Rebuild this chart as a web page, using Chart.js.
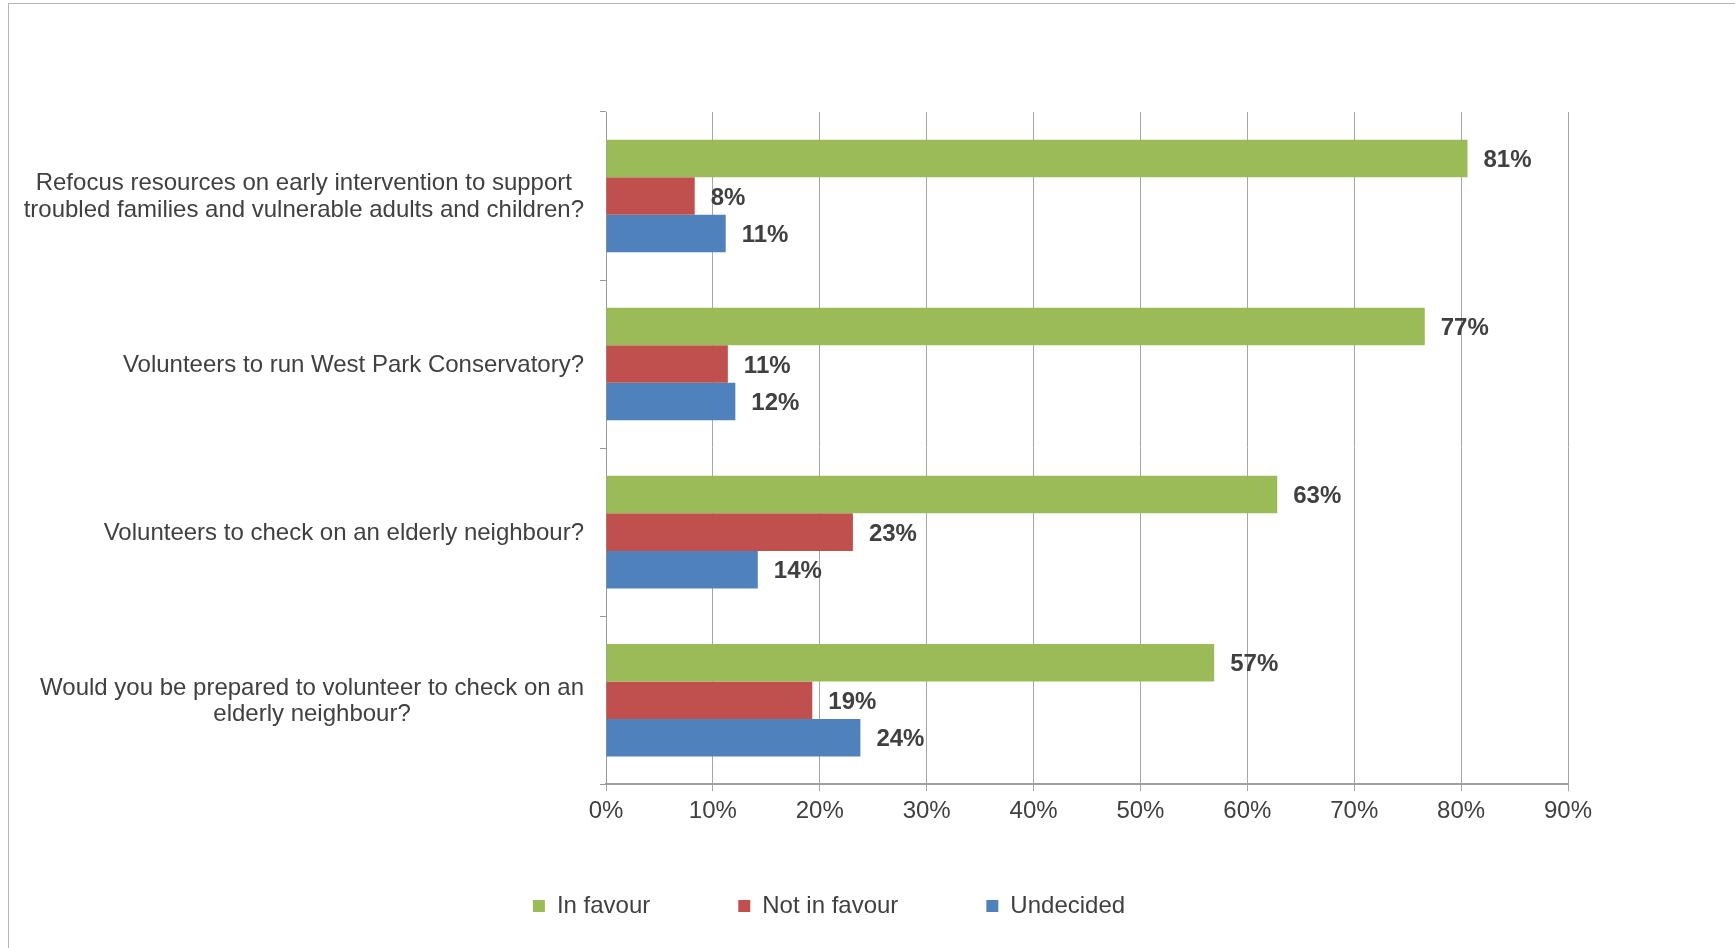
<!DOCTYPE html>
<html lang="en">
<head>
    <meta charset="UTF-8">
    <title>Volunteering and early intervention - survey results</title>
    <script src="https://cdn.jsdelivr.net/npm/chart.js"></script>
    <style>
        body { margin: 0; background: #fff; font-family: "Liberation Sans", Arial, sans-serif; overflow: hidden; }
        .moldura { position: absolute; left: 8px; top: 3px; width: 1800px; height: 1000px; border: 1px solid #b4b4b4; }
        .grafico { position: absolute; left: 0; top: 0; width: 1640px; height: 952px; }
    </style>
</head>
<body>
    <div class="moldura">
        <div class="grafico"><canvas id="grafico"></canvas></div>
    </div>

    <script>
        // perguntas (cada linha da label em um item)
        const perguntas = [
            ["Refocus resources on early intervention to support", "troubled families and vulnerable adults and children?"],
            ["Volunteers to run West Park Conservatory?"],
            ["Volunteers to check on an elderly neighbour?"],
            ["Would you be prepared to volunteer to check on an", "elderly neighbour?"]
        ];
        const emFavor = [80.6, 76.6, 62.8, 56.9];
        const contra = [8.3, 11.4, 23.1, 19.3];
        const indecisos = [11.2, 12.1, 14.2, 23.8];
        const ticksX = [0, 10, 20, 30, 40, 50, 60, 70, 80, 90];

        const corTexto = "#404040";
        const fonte = "'Liberation Sans', Arial, sans-serif";

        // desenha as perguntas centralizadas, alinhadas à direita do eixo
        const pluginPerguntas = {
            id: "perguntas",
            afterDraw(chart) {
                const ctx = chart.ctx;
                const y = chart.scales.y;
                ctx.save();
                ctx.font = "24px " + fonte;
                ctx.fillStyle = corTexto;
                ctx.textAlign = "center";
                ctx.textBaseline = "middle";
                const direita = y.right - 22;
                const alturaLinha = 26.5;
                perguntas.forEach((linhas, i) => {
                    const largura = Math.max(...linhas.map(l => ctx.measureText(l).width));
                    const cx = direita - largura / 2;
                    const cy = y.getPixelForValue(i) + 1;
                    linhas.forEach((l, j) => {
                        ctx.fillText(l, cx, cy + (j - (linhas.length - 1) / 2) * alturaLinha);
                    });
                });
                ctx.restore();
            }
        };

        // rótulos de valor ao lado das barras
        const pluginValores = {
            id: "valores",
            afterDatasetsDraw(chart) {
                const ctx = chart.ctx;
                ctx.save();
                ctx.font = "bold 24px " + fonte;
                ctx.fillStyle = corTexto;
                ctx.textAlign = "left";
                ctx.textBaseline = "middle";
                chart.data.datasets.forEach((ds, d) => {
                    chart.getDatasetMeta(d).data.forEach((barra, i) => {
                        ctx.fillText(Math.round(ds.data[i]) + "%", barra.x + 16, barra.y + 2);
                    });
                });
                ctx.restore();
            }
        };

        // legenda mais perto do eixo do que o padding horizontal deixaria
        const pluginLegenda = {
            id: "subirLegenda",
            afterLayout(chart) {
                chart.legend.top -= 26;
                chart.legend.bottom -= 26;
            }
        };

        const ctx = document.getElementById("grafico").getContext("2d");
        new Chart(ctx, {
            type: "bar",
            data: {
                labels: perguntas.map(l => l.join(" ")),
                datasets: [
                    { label: "In favour", data: emFavor, backgroundColor: "#9BBB59" },
                    { label: "Not in favour", data: contra, backgroundColor: "#C0504D" },
                    { label: "Undecided", data: indecisos, backgroundColor: "#4F81BD" }
                ]
            },
            options: {
                indexAxis: "y",
                responsive: true,
                maintainAspectRatio: false,
                animation: false,
                datasets: { bar: { categoryPercentage: 0.67, barPercentage: 1.0 } },
                layout: { padding: { top: 108, right: 0, bottom: 2, left: 0 } },
                scales: {
                    x: {
                        min: 0,
                        max: 90,
                        afterBuildTicks: scale => { scale.ticks = ticksX.map(v => ({ value: v })); },
                        ticks: {
                            callback: v => v + "%",
                            color: corTexto,
                            font: { family: fonte, size: 24 },
                            padding: 6,
                            maxRotation: 0
                        },
                        grid: { color: "#a6a6a6", tickLength: 7, tickColor: "#a6a6a6" },
                        border: { color: "#a0a0a0", width: 2 }
                    },
                    y: {
                        ticks: { display: false },
                        afterFit: scale => { scale.width = 597; },
                        grid: { drawOnChartArea: false, tickLength: 6, color: "#999" },
                        border: { color: "#999", width: 1 }
                    },
                    // eixo vazio à direita, só para reservar o espaço dos rótulos
                    margemDireita: {
                        type: "linear",
                        position: "right",
                        display: true,
                        ticks: { display: false },
                        grid: { display: false, drawTicks: false },
                        border: { display: false },
                        afterFit: scale => { scale.width = 81; }
                    }
                },
                plugins: {
                    tooltip: { enabled: false },
                    legend: {
                        position: "bottom",
                        labels: {
                            color: corTexto,
                            font: { family: fonte, size: 24 },
                            boxWidth: 12,
                            boxHeight: 12,
                            padding: 88
                        }
                    }
                }
            },
            plugins: [pluginPerguntas, pluginValores, pluginLegenda]
        });
    </script>
</body>
</html>
